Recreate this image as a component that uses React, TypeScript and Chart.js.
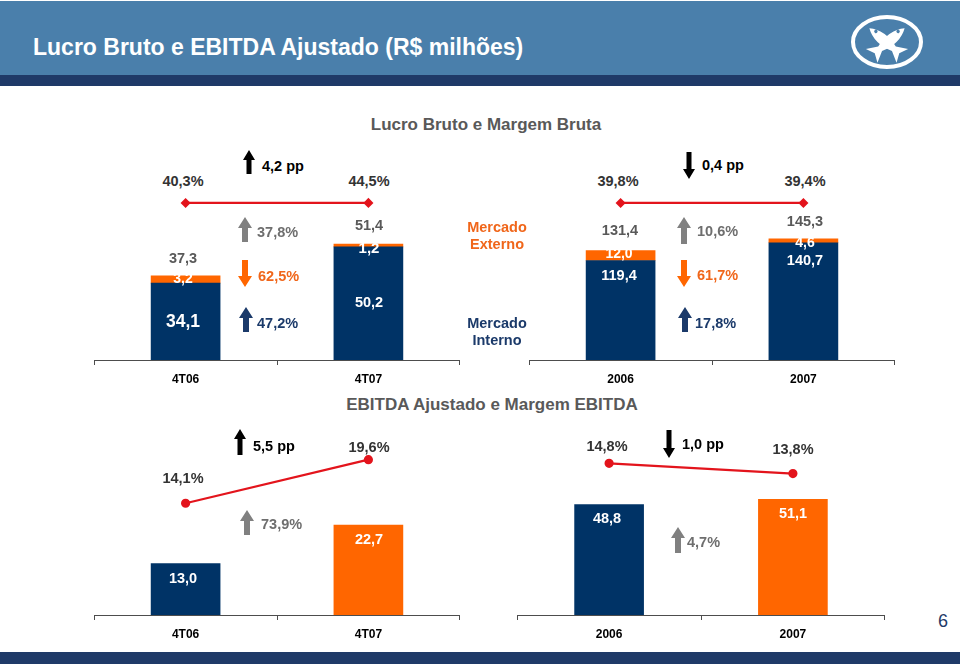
import React, { useEffect, useRef } from "react";
import { Chart, registerables } from "chart.js";

Chart.register(...registerables);

// ---------- data ----------
const QUARTERS = ["4T06", "4T07"];
const YEARS = ["2006", "2007"];

const LB_INTERNO_Q = [34.1, 50.2];
const LB_EXTERNO_Q = [3.2, 1.2];
const LB_TOTAL_Q = [37.3, 51.4];
const MARGEM_BRUTA_Q = [40.3, 44.5];

const LB_INTERNO_Y = [119.4, 140.7];
const LB_EXTERNO_Y = [12.0, 4.6];
const LB_TOTAL_Y = [131.4, 145.3];
const MARGEM_BRUTA_Y = [39.8, 39.4];

const EBITDA_Q = [13.0, 22.7];
const MARGEM_EBITDA_Q = [14.1, 19.6];
const EBITDA_Y = [48.8, 51.1];
const MARGEM_EBITDA_Y = [14.8, 13.8];

const VAR_LB_Q = ["4,2 pp", "37,8%", "62,5%", "47,2%"];
const VAR_LB_Y = ["0,4 pp", "10,6%", "61,7%", "17,8%"];
const VAR_EBITDA_Q = ["5,5 pp", "73,9%"];
const VAR_EBITDA_Y = ["1,0 pp", "4,7%"];

// ---------- style ----------
const FONT = "'Liberation Sans', Arial, sans-serif";
const NAVY = "#003366";
const ORANGE = "#ff6600";
const RED = "#e3141c";
const AXIS = "#4d4d4d";
const GRAY = "#6e6e6e";
const DARK = "#333333";
const ORANGE_TXT = "#f0661a";
const NAVY_TXT = "#1b3a6a";

const fmt = (v: number) => v.toFixed(1).replace(".", ",");
const pct = (v: number) => fmt(v) + "%";

function flatAxis(vals: number[], frac: number) {
  const R = 20000;
  const mid = (vals[0] + vals[1]) / 2;
  const min = mid - frac * R;
  return { min, max: min + R };
}

function xScale() {
  return {
    stacked: true,
    grid: { offset: true, drawOnChartArea: false, drawTicks: true, tickLength: 5, color: AXIS, lineWidth: 1 },
    border: { display: true, color: AXIS, width: 1 },
    ticks: { color: "#000", font: { family: FONT, size: 12, weight: "bold" }, padding: 7 },
    afterFit: (s: any) => { s.height = 30; },
  };
}

function stackedConfig(labels: string[], interno: number[], externo: number[], margem: number[], yMax: number, frac: number) {
  const m = flatAxis(margem, frac);
  return {
    type: "bar",
    data: {
      labels,
      datasets: [
        { type: "line", label: "Margem Bruta", data: margem, yAxisID: "m", borderColor: RED, borderWidth: 2.2,
          pointRadius: 3.5, pointStyle: "rectRot", pointBackgroundColor: RED, pointBorderColor: RED, order: 0 },
        { label: "Mercado Interno", data: interno, backgroundColor: NAVY, stack: "s", order: 1, barThickness: 69, yAxisID: "y" },
        { label: "Mercado Externo", data: externo, backgroundColor: ORANGE, stack: "s", order: 1, barThickness: 69, yAxisID: "y" },
      ],
    },
    options: {
      responsive: false, maintainAspectRatio: false, animation: false,
      layout: { padding: { left: 4, right: 4, top: 0, bottom: 0 } },
      plugins: { legend: { display: false }, tooltip: { enabled: false } },
      scales: {
        x: xScale(),
        y: { stacked: true, display: false, min: 0, max: yMax },
        m: { display: false, min: m.min, max: m.max },
      },
    },
  };
}

function simpleConfig(labels: string[], values: number[], margem: number[], yMax: number, mMax: number) {
  return {
    type: "bar",
    data: {
      labels,
      datasets: [
        { type: "line", label: "Margem EBITDA", data: margem, yAxisID: "m", borderColor: RED, borderWidth: 2.2,
          pointRadius: 3.5, pointBackgroundColor: RED, pointBorderColor: RED, order: 0 },
        { label: "EBITDA Ajustado", data: values, backgroundColor: [NAVY, ORANGE], order: 1, barThickness: 69, yAxisID: "y" },
      ],
    },
    options: {
      responsive: false, maintainAspectRatio: false, animation: false,
      layout: { padding: { left: 4, right: 4, top: 0, bottom: 0 } },
      plugins: { legend: { display: false }, tooltip: { enabled: false } },
      scales: {
        x: xScale(),
        y: { display: false, min: 0, max: yMax },
        m: { display: false, min: 0, max: mMax },
      },
    },
  };
}

function ChartBox({ left, top, width, height, config }: any) {
  const ref = useRef<HTMLCanvasElement>(null);
  useEffect(() => {
    const chart = new Chart(ref.current as HTMLCanvasElement, config);
    return () => chart.destroy();
  }, []);
  return (
    <canvas ref={ref} width={width} height={height}
      style={{ position: "absolute", left, top, width, height }} />
  );
}

function T({ x, y, children, align = "center", size = 14.5, color = DARK, weight = 700 }: any) {
  return (
    <div style={{
      position: "absolute", left: x, top: y,
      transform: align === "center" ? "translate(-50%,-50%)" : "translate(0,-50%)",
      fontSize: size, lineHeight: 1, fontWeight: weight, color, whiteSpace: "nowrap", fontFamily: FONT,
      textAlign: "center",
    }}>{children}</div>
  );
}

function Arrow({ cx, y1, y2, dir, color, hw = 14, hh = 11, sw = 6 }: any) {
  const w = hw;
  const h = y2 - y1;
  const a = w / 2 - sw / 2, b = w / 2 + sw / 2;
  const pts = dir === "up"
    ? [[w / 2, 0], [w, hh], [b, hh], [b, h], [a, h], [a, hh], [0, hh]]
    : [[w / 2, h], [w, h - hh], [b, h - hh], [b, 0], [a, 0], [a, h - hh], [0, h - hh]];
  return (
    <svg style={{ position: "absolute", left: cx - w / 2, top: y1 }} width={w} height={h}>
      <polygon points={pts.map((p) => p.join(",")).join(" ")} fill={color} />
    </svg>
  );
}

function Logo() {
  const fish = "M -23 0 Q -10 -9 9 -3 L 20 -9 L 16 0 L 20 9 L 9 3 Q -10 9 -23 0 Z";
  return (
    <svg style={{ position: "absolute", left: 850, top: 14 }} width={74} height={56}>
      <ellipse cx={37} cy={28} rx={34} ry={25} fill="none" stroke="#fff" strokeWidth={4} />
      <g transform="translate(37,29) rotate(40)">
        <path d={fish} fill="#fff" />
        <circle cx={-16} cy={-1.8} r={1.7} fill="#4a7fab" />
      </g>
      <g transform="translate(37,29) scale(-1,1) rotate(40)">
        <path d={fish} fill="#fff" />
        <circle cx={-16} cy={-1.8} r={1.7} fill="#4a7fab" />
      </g>
    </svg>
  );
}

export default function App() {
  const frac = (360 - 197) / 170;
  const cfgTL = stackedConfig(QUARTERS, LB_INTERNO_Q, LB_EXTERNO_Q, MARGEM_BRUTA_Q, 72.65, frac);
  const cfgTR = stackedConfig(YEARS, LB_INTERNO_Y, LB_EXTERNO_Y, MARGEM_BRUTA_Y, 196.5, frac);
  const cfgBL = simpleConfig(QUARTERS, EBITDA_Q, MARGEM_EBITDA_Q, 45.1, 22.56);
  const cfgBR = simpleConfig(YEARS, EBITDA_Y, MARGEM_EBITDA_Y, 79.0, 17.45);

  return (
    <div style={{ position: "absolute", left: 0, top: 0, width: 960, height: 664, background: "#fff", overflow: "hidden", fontFamily: FONT }}>
      {/* header */}
      <div style={{ position: "absolute", left: 0, top: 1, width: 960, height: 74, background: "#4a7fab" }} />
      <div style={{ position: "absolute", left: 0, top: 75, width: 960, height: 11, background: "#1f3a68" }} />
      <div style={{
        position: "absolute", left: 33, top: 47, transform: "translate(0,-50%)",
        fontFamily: FONT, fontWeight: 700, fontSize: 23, lineHeight: 1, color: "#fff", whiteSpace: "nowrap",
      }}>Lucro Bruto e EBITDA Ajustado (R$ milhões)</div>
      <Logo />
      {/* footer */}
      <div style={{ position: "absolute", left: 0, top: 652, width: 960, height: 12, background: "#1f3a68" }} />
      <T x={943} y={621} size={18} weight={400} color="#1f3a68">6</T>

      {/* charts */}
      <ChartBox left={88} top={190} width={378} height={200} config={cfgTL} />
      <ChartBox left={523} top={190} width={378} height={200} config={cfgTR} />
      <ChartBox left={88} top={430} width={378} height={215} config={cfgBL} />
      <ChartBox left={511} top={430} width={380} height={215} config={cfgBR} />

      {/* top panel texts */}
      <T x={486} y={124} size={17} color="#595959">Lucro Bruto e Margem Bruta</T>
      <T x={183} y={181}>{pct(MARGEM_BRUTA_Q[0])}</T>
      <T x={369} y={181}>{pct(MARGEM_BRUTA_Q[1])}</T>
      <T x={618} y={181}>{pct(MARGEM_BRUTA_Y[0])}</T>
      <T x={805} y={181}>{pct(MARGEM_BRUTA_Y[1])}</T>

      <Arrow cx={249} y1={150} y2={174} dir="up" color="#000" hw={12} hh={10} sw={5} />
      <T x={262} y={166} align="left" color="#000">{VAR_LB_Q[0]}</T>
      <Arrow cx={689} y1={152} y2={179} dir="down" color="#000" hw={12} hh={10} sw={5} />
      <T x={702} y={165} align="left" color="#000">{VAR_LB_Y[0]}</T>

      <T x={183} y={258} color="#595959">{fmt(LB_TOTAL_Q[0])}</T>
      <T x={369} y={225} color="#595959">{fmt(LB_TOTAL_Q[1])}</T>
      <T x={620} y={230} color="#595959">{fmt(LB_TOTAL_Y[0])}</T>
      <T x={805} y={221} color="#595959">{fmt(LB_TOTAL_Y[1])}</T>

      <T x={183} y={278} color="#fff" size={14}>{fmt(LB_EXTERNO_Q[0])}</T>
      <T x={369} y={247} color="#fff" size={15}>{fmt(LB_EXTERNO_Q[1])}</T>
      <T x={619} y={253} color="#fff" size={14}>{fmt(LB_EXTERNO_Y[0])}</T>
      <T x={805} y={242} color="#fff" size={14}>{fmt(LB_EXTERNO_Y[1])}</T>

      <T x={183} y={322} color="#fff" size={17.5}>{fmt(LB_INTERNO_Q[0])}</T>
      <T x={369} y={302} color="#fff">{fmt(LB_INTERNO_Q[1])}</T>
      <T x={619} y={275} color="#fff">{fmt(LB_INTERNO_Y[0])}</T>
      <T x={805} y={260} color="#fff">{fmt(LB_INTERNO_Y[1])}</T>

      <Arrow cx={245} y1={217} y2={242} dir="up" color="#808080" />
      <T x={257} y={232} align="left" color={GRAY}>{VAR_LB_Q[1]}</T>
      <Arrow cx={245} y1={260} y2={287} dir="down" color={ORANGE} />
      <T x={258} y={276} align="left" color={ORANGE_TXT}>{VAR_LB_Q[2]}</T>
      <Arrow cx={246} y1={307} y2={332} dir="up" color={NAVY_TXT} />
      <T x={257} y={323} align="left" color={NAVY_TXT}>{VAR_LB_Q[3]}</T>

      <Arrow cx={684} y1={217} y2={244} dir="up" color="#808080" />
      <T x={697} y={231} align="left" color={GRAY}>{VAR_LB_Y[1]}</T>
      <Arrow cx={684} y1={260} y2={287} dir="down" color={ORANGE} />
      <T x={697} y={275} align="left" color={ORANGE_TXT}>{VAR_LB_Y[2]}</T>
      <Arrow cx={685} y1={307} y2={332} dir="up" color={NAVY_TXT} />
      <T x={695} y={323} align="left" color={NAVY_TXT}>{VAR_LB_Y[3]}</T>

      <T x={497} y={227} color={ORANGE_TXT}>Mercado</T>
      <T x={497} y={243.5} color={ORANGE_TXT}>Externo</T>
      <T x={497} y={323} color={NAVY_TXT}>Mercado</T>
      <T x={497} y={339.5} color={NAVY_TXT}>Interno</T>

      {/* bottom panel texts */}
      <T x={492} y={404} size={17} color="#595959">EBITDA Ajustado e Margem EBITDA</T>
      <Arrow cx={240} y1={429} y2={455} dir="up" color="#000" hw={12} hh={10} sw={5} />
      <T x={253} y={446} align="left" color="#000">{VAR_EBITDA_Q[0]}</T>
      <T x={369} y={447}>{pct(MARGEM_EBITDA_Q[1])}</T>
      <T x={183} y={478}>{pct(MARGEM_EBITDA_Q[0])}</T>
      <Arrow cx={247} y1={510} y2={535} dir="up" color="#808080" />
      <T x={261} y={524} align="left" color={GRAY}>{VAR_EBITDA_Q[1]}</T>
      <T x={183} y={578} color="#fff">{fmt(EBITDA_Q[0])}</T>
      <T x={369} y={539} color="#fff">{fmt(EBITDA_Q[1])}</T>

      <T x={607} y={446}>{pct(MARGEM_EBITDA_Y[0])}</T>
      <Arrow cx={669} y1={430} y2={458} dir="down" color="#000" hw={12} hh={10} sw={5} />
      <T x={682} y={444} align="left" color="#000">{VAR_EBITDA_Y[0]}</T>
      <T x={793} y={449}>{pct(MARGEM_EBITDA_Y[1])}</T>
      <T x={607} y={518} color="#fff">{fmt(EBITDA_Y[0])}</T>
      <T x={793} y={513} color="#fff">{fmt(EBITDA_Y[1])}</T>
      <Arrow cx={678} y1={527} y2={553} dir="up" color="#808080" />
      <T x={687} y={542} align="left" color={GRAY}>{VAR_EBITDA_Y[1]}</T>
    </div>
  );
}
